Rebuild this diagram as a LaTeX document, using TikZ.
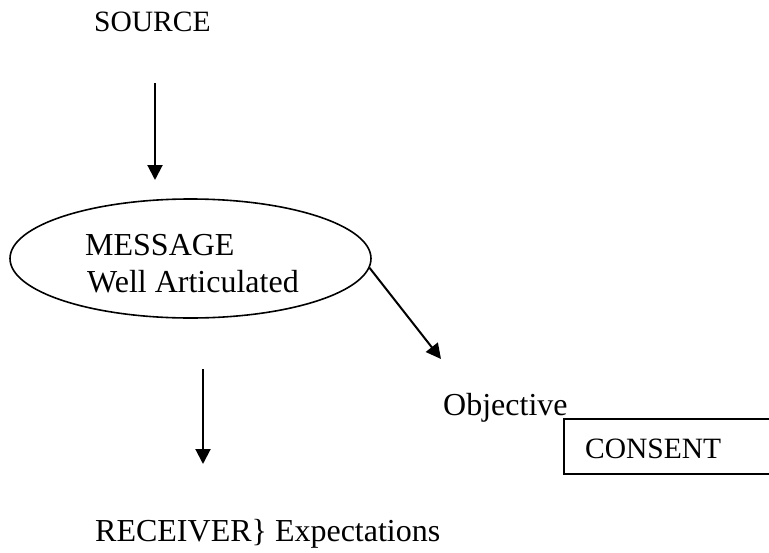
\documentclass[tikz,border=0pt]{standalone}
\usepackage{fontspec}
\setmainfont{Liberation Serif}
\usetikzlibrary{arrows.meta,shapes.geometric}
\tikzset{
  label/.style={anchor=base west, inner sep=0pt, font=\fontsize{29.5}{34}\selectfont},
  biglabel/.style={label, font=\fontsize{32}{36}\selectfont},
  flow/.style={line width=2pt, -{Triangle[width=15pt,length=15pt]}}
}
\begin{document}
\begin{tikzpicture}[x=1pt, y=-1pt]
\clip (0,0) rectangle (769,552);
\node[label] (source) at (94,31) {SOURCE};
\node[draw, ellipse, line width=1.6pt, minimum width=361pt, minimum height=119pt] (msg) at (190.5,258.5) {};
\node[biglabel] (message) at (85,255) {MESSAGE};
\node[biglabel] (well) at (87,292) {Well Articulated};
\node[biglabel] (objective) at (443,415) {Objective};
\node[draw, line width=1.5pt, anchor=north west, minimum width=240pt, minimum height=55pt] (box) at (563,418) {};
\node[label] (consent) at (585,458) {CONSENT};
\node[biglabel] (receiver) at (95,541) {RECEIVER\} Expectations};

\coordinate (s1) at (155,83);
\coordinate (s2) at (155,180);
\coordinate (m2) at (441,359);
\coordinate (r1) at (203,369);
\coordinate (r2) at (203,464);

\draw[flow] (s1) -- (s2);
\draw[flow] (msg.-3) -- (m2);
\draw[flow] (r1) -- (r2);
\end{tikzpicture}
\end{document}
